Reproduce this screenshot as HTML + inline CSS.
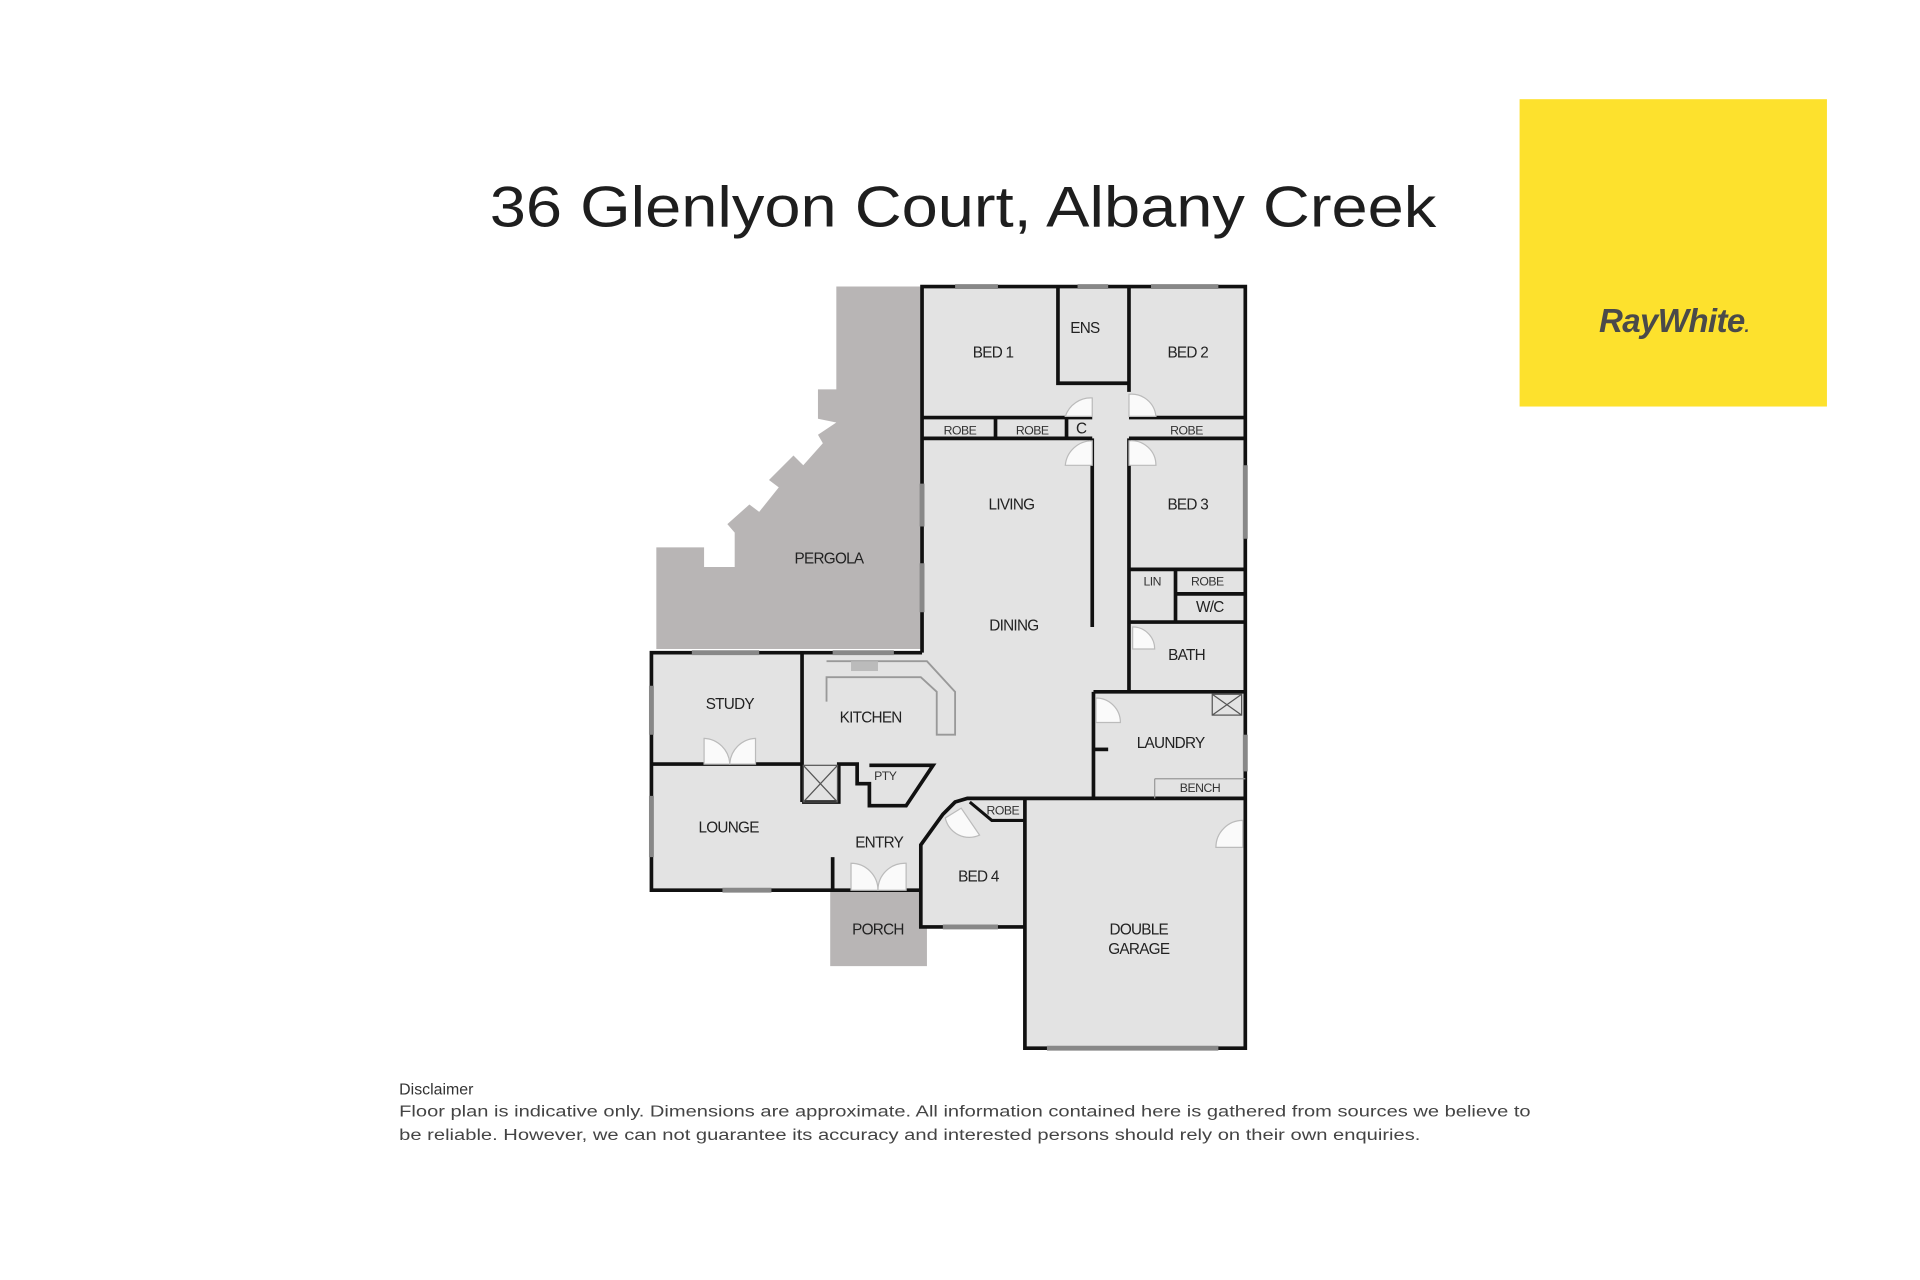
<!DOCTYPE html>
<html><head><meta charset="utf-8"><style>
html,body{margin:0;padding:0;background:#fff;width:1920px;height:1280px;overflow:hidden}
svg{display:block}
text{font-family:"Liberation Sans",sans-serif}
.l{font-size:12.5px;fill:#222;text-anchor:middle;letter-spacing:-0.6px}
.s{font-size:10px;fill:#333;text-anchor:middle;letter-spacing:-0.4px}
</style></head><body>
<svg width="1920" height="1280" viewBox="0 0 1568 1045.33" preserveAspectRatio="none">
<rect width="1568" height="1046" fill="#fff"/>
<text x="400" y="185" font-size="47" fill="#1e1e1e" textLength="773" lengthAdjust="spacingAndGlyphs">36 Glenlyon Court, Albany Creek</text>
<rect x="1241" y="81" width="251" height="251" fill="#fde12d"/>
<text x="1367" y="271" font-size="27" font-weight="bold" font-style="italic" fill="#4a4a4a" text-anchor="middle" letter-spacing="-0.5">RayWhite<tspan font-size="14">.</tspan></text>

<polygon points="683,234 753,234 753,530 536,530 536,447 575,447 575,463 600,463 600,435 594,428 612,412 620,418 636,398 628,392 648,372 656,380 672,362 668,355 683,345 668,342 668,318 683,318" fill="#b8b5b5"/>
<rect x="678" y="727" width="79" height="62" fill="#b8b5b5"/>

<polygon points="753,234 1017,234 1017,856 837,856 837,757 752,757 752,727 532,727 532,533 753,533" fill="#e3e3e3"/>
<g stroke="#111" stroke-width="3" fill="none">
<polyline points="753,533 753,234 1017,234 1017,856 837,856 837,652"/>
<polyline points="837,757 752,757 752,690 770,665 780,655 790,652 1017,652"/>
<polyline points="752,727 532,727 532,533 753,533"/>
<polyline points="864,234 864,313 922,313"/>
<line x1="922" y1="234" x2="922" y2="320"/>
<line x1="753" y1="341" x2="892" y2="341"/>
<line x1="753" y1="358" x2="892" y2="358"/>
<line x1="813" y1="341" x2="813" y2="358"/>
<line x1="871" y1="341" x2="871" y2="358"/>
<line x1="892" y1="358" x2="892" y2="512"/>
<line x1="922" y1="341" x2="1017" y2="341"/>
<line x1="922" y1="358" x2="1017" y2="358"/>
<line x1="922" y1="358" x2="922" y2="565"/>
<line x1="922" y1="465" x2="1017" y2="465"/>
<line x1="960" y1="465" x2="960" y2="508"/>
<line x1="960" y1="485" x2="1017" y2="485"/>
<line x1="922" y1="508" x2="1017" y2="508"/>
<line x1="893" y1="565" x2="1017" y2="565"/>
<line x1="893" y1="565" x2="893" y2="652"/>
<line x1="893" y1="612" x2="905" y2="612"/>
<line x1="532" y1="624" x2="655" y2="624"/>
<line x1="655" y1="533" x2="655" y2="655"/>
<polyline points="655,655 685,655 685,624 700,624 700,640 710,640 710,658 740,658 762,625 710,625"/>
<line x1="680" y1="700" x2="680" y2="727"/>
</g>
<polyline points="792,655 810,670 837,670" fill="none" stroke="#111" stroke-width="2.5"/>
<polyline points="675,573 675,553 752,553 765,565 765,600 780,600 780,565 757,540 675,540" fill="none" stroke="#999" stroke-width="1.5"/>
<rect x="695" y="540" width="22" height="8" fill="#bbb"/>
<rect x="656" y="625" width="28" height="30" fill="none" stroke="#555"/>
<line x1="656" y1="625" x2="684" y2="655" stroke="#555"/><line x1="684" y1="625" x2="656" y2="655" stroke="#555"/>
<rect x="990" y="567" width="24" height="17" fill="none" stroke="#555"/>
<line x1="990" y1="567" x2="1014" y2="584" stroke="#555"/><line x1="1014" y1="567" x2="990" y2="584" stroke="#555"/>
<line x1="943" y1="636" x2="1017" y2="636" stroke="#999"/><line x1="943" y1="636" x2="943" y2="652" stroke="#999"/>
<g stroke="#888" stroke-width="4">
<line x1="780" y1="234" x2="815" y2="234"/><line x1="880" y1="234" x2="905" y2="234"/><line x1="940" y1="234" x2="995" y2="234"/>
<line x1="753" y1="395" x2="753" y2="430"/><line x1="753" y1="460" x2="753" y2="500"/>
<line x1="565" y1="533" x2="620" y2="533"/><line x1="680" y1="533" x2="730" y2="533"/>
<line x1="532" y1="560" x2="532" y2="600"/><line x1="532" y1="650" x2="532" y2="700"/>
<line x1="590" y1="727" x2="630" y2="727"/><line x1="770" y1="757" x2="815" y2="757"/>
<line x1="855" y1="856" x2="995" y2="856"/><line x1="1017" y1="600" x2="1017" y2="630"/>
<line x1="1017" y1="380" x2="1017" y2="440"/>
</g>
<g fill="#fafafa" stroke="#bbb" stroke-width="1">
<path d="M892,325 A22,22 0 0 0 870,340 L892,340Z"/><path d="M922,322 A20,20 0 0 1 944,340 L922,340Z"/>
<path d="M892,360 A22,22 0 0 0 870,380 L892,380Z"/><path d="M922,360 A20,20 0 0 1 944,380 L922,380Z"/>
<path d="M575,624 L575,603 A22,22 0 0 1 596,624Z"/><path d="M617,624 L617,603 A22,22 0 0 0 596,624Z"/>
<path d="M695,727 L695,705 A22,22 0 0 1 717,727Z"/><path d="M740,727 L740,705 A22,22 0 0 0 717,727Z"/>
<path d="M1015,670 A22,22 0 0 0 993,692 L1015,692Z"/>
<path d="M895,570 A20,20 0 0 1 915,590 L895,590Z"/>
<path d="M925,512 A18,18 0 0 1 943,530 L925,530Z"/>
<path d="M772,668 A20,20 0 0 0 800,682 L785,660Z"/>
</g>
<text class="l" x="811" y="292">BED 1</text>
<text class="l" x="886" y="272">ENS</text>
<text class="l" x="970" y="292">BED 2</text>
<text class="s" x="784" y="355">ROBE</text><text class="s" x="843" y="355">ROBE</text>
<text class="l" x="883" y="354">C</text><text class="s" x="969" y="355">ROBE</text>
<text class="l" x="826" y="416">LIVING</text>
<text class="l" x="970" y="416">BED 3</text>
<text class="s" x="941" y="478">LIN</text><text class="s" x="986" y="478">ROBE</text>
<text class="l" x="988" y="500">W/C</text>
<text class="l" x="677" y="460">PERGOLA</text>
<text class="l" x="828" y="515">DINING</text>
<text class="l" x="969" y="539">BATH</text>
<text class="l" x="596" y="579">STUDY</text>
<text class="l" x="711" y="590">KITCHEN</text>
<text class="l" x="956" y="611">LAUNDRY</text>
<text class="s" x="723" y="637">PTY</text>
<text class="s" x="980" y="647" font-size="8">BENCH</text>
<text class="s" x="819" y="665">ROBE</text>
<text class="l" x="595" y="680">LOUNGE</text>
<text class="l" x="718" y="692">ENTRY</text>
<text class="l" x="799" y="720">BED 4</text>
<text class="l" x="717" y="763">PORCH</text>
<text class="l" x="930" y="763">DOUBLE</text>
<text class="l" x="930" y="779">GARAGE</text>

<text x="326" y="894" font-size="13" fill="#333">Disclaimer</text>
<text x="326" y="912" font-size="13" fill="#444" textLength="924" lengthAdjust="spacingAndGlyphs">Floor plan is indicative only. Dimensions are approximate. All information contained here is gathered from sources we believe to</text>
<text x="326" y="931" font-size="13" fill="#444" textLength="834" lengthAdjust="spacingAndGlyphs">be reliable. However, we can not guarantee its accuracy and interested persons should rely on their own enquiries.</text>
</svg>
</body></html>
